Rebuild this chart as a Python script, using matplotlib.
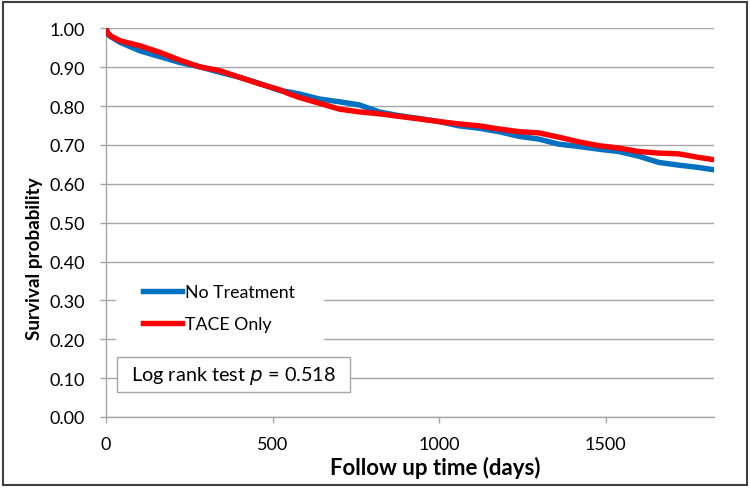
import matplotlib.pyplot as plt
from matplotlib.patches import Rectangle

plt.rcParams['font.family'] = ['Lato', 'DejaVu Sans']

# Kaplan-Meier estimates (days, survival probability)
days = [0, 5, 15, 42, 102, 162, 222, 281, 341, 401, 461, 521, 551, 581, 641,
        701, 760, 820, 874, 940, 1000, 1060, 1120, 1180, 1240, 1299, 1359,
        1419, 1479, 1539, 1599, 1659, 1719, 1778, 1825]
no_treatment = [1.00, 0.985, 0.978, 0.964, 0.942, 0.927, 0.912, 0.901, 0.887,
                0.874, 0.858, 0.840, 0.836, 0.831, 0.818, 0.811, 0.803, 0.785,
                0.776, 0.768, 0.760, 0.749, 0.743, 0.734, 0.722, 0.715, 0.702,
                0.696, 0.689, 0.683, 0.671, 0.655, 0.648, 0.642, 0.636]
tace_only = [1.00, 0.988, 0.980, 0.968, 0.955, 0.938, 0.918, 0.901, 0.891,
             0.874, 0.857, 0.842, 0.831, 0.822, 0.807, 0.792, 0.785, 0.780,
             0.774, 0.767, 0.760, 0.754, 0.749, 0.741, 0.734, 0.731, 0.720,
             0.708, 0.698, 0.692, 0.683, 0.679, 0.677, 0.668, 0.662]

x_ticks = [0, 500, 1000, 1500]
y_ticks = [i / 10 for i in range(11)]

fig = plt.figure(figsize=(7.5, 4.89), dpi=100)
ax = fig.add_axes([106 / 750, 1 - 418 / 489, 608 / 750, 388.7 / 489])

ax.plot(days, no_treatment, color='#0070C0', lw=3.9, label='No Treatment',
        solid_joinstyle='miter', zorder=3)
ax.plot(days, tace_only, color='#FF0000', lw=3.9, label='TACE Only',
        solid_joinstyle='miter', zorder=4)

ax.set_xlim(0, 1825)
ax.set_ylim(0, 1)
ax.set_xticks(x_ticks)
ax.set_yticks(y_ticks)
ax.set_yticklabels([f'{v:.2f}' for v in y_ticks])
ax.yaxis.grid(True, color='#A6A6A6', lw=1.0)
ax.set_axisbelow(True)

for s in ['top', 'right']:
    ax.spines[s].set_visible(False)
for s in ['left', 'bottom']:
    ax.spines[s].set_color('#A6A6A6')
    ax.spines[s].set_linewidth(1.0)
ax.tick_params(axis='both', colors='#A6A6A6', labelcolor='black',
               labelsize=13, length=4, width=1.0)
ax.tick_params(axis='x', pad=10)
ax.tick_params(axis='y', pad=11)

ax.set_xlabel('Follow up time (days)', fontsize=16, fontweight='bold')
ax.set_ylabel('Survival probability', fontsize=13.6, fontweight='bold')
ax.xaxis.set_label_coords(0.542, -0.100)
ax.yaxis.set_label_coords(-0.104, 0.41)

# white area behind the legend (hides the grid lines there)
ax.add_patch(Rectangle((0.016, 0.18), 0.343, 0.2, transform=ax.transAxes,
                       facecolor='white', edgecolor='none', zorder=2))
leg = ax.legend(loc='upper left', bbox_to_anchor=(0.061, 0.341),
                borderaxespad=0, fontsize=12.8, handlelength=2.2,
                handletextpad=0.15, borderpad=0, labelspacing=0.87,
                frameon=False)

ax.add_patch(Rectangle((0.018, 0.064), 0.383, 0.09, transform=ax.transAxes,
                       facecolor='white', edgecolor='#A6A6A6', lw=1.0,
                       zorder=5))
ax.text(0.21, 0.108, 'Log rank test $\\it{p}$ = 0.518', transform=ax.transAxes,
        ha='center', va='center', fontsize=14.3, zorder=6)

fig.patches.append(Rectangle((3 / 750, 3 / 489), 744 / 750, 483 / 489,
                             transform=fig.transFigure, fill=False,
                             edgecolor='#404040', lw=1.5))

fig.savefig('out.png', dpi=100)
